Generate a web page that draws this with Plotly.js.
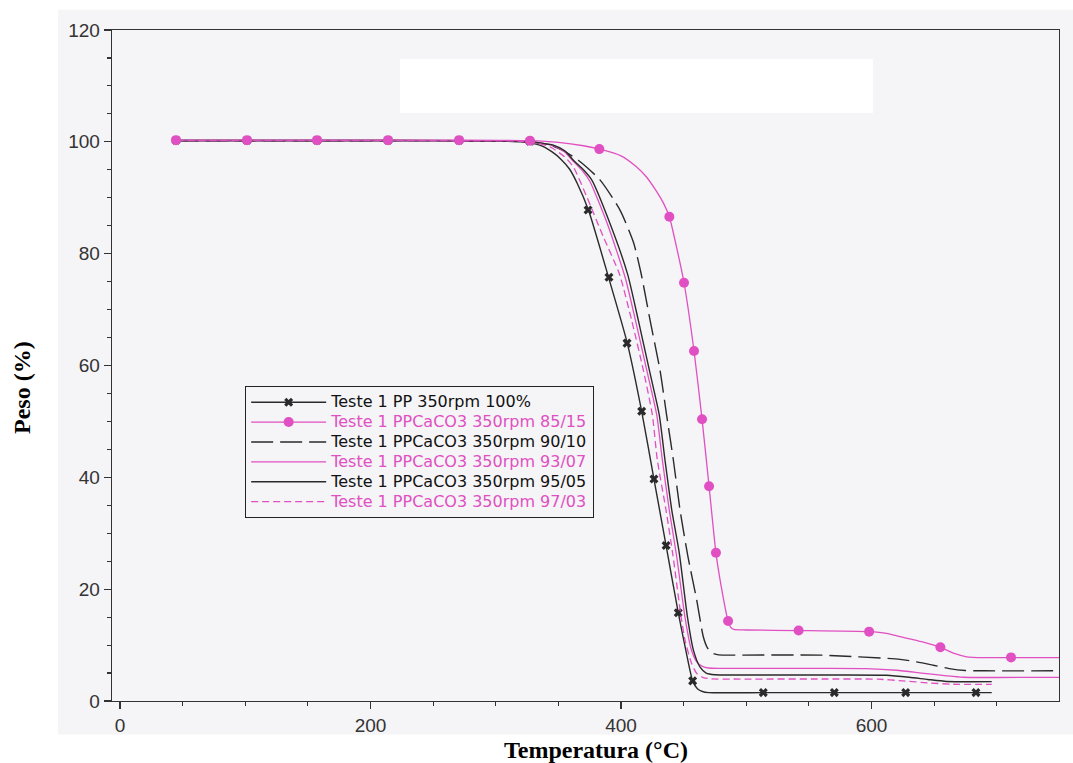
<!DOCTYPE html>
<html>
<head>
<meta charset="utf-8">
<script src="https://cdn.plot.ly/plotly-3.0.1.min.js"></script>
<style>html,body{margin:0;padding:0;background:#fff;}#chart{width:1073px;height:763px;}</style>
</head>
<body>
<div id="chart"></div>
<script>
// ---- Data (Temperatura °C, Peso %) ----
const seriesNames = [
  'Teste 1 PP 350rpm 100%',
  'Teste 1 PPCaCO3 350rpm 85/15',
  'Teste 1 PPCaCO3 350rpm 90/10',
  'Teste 1 PPCaCO3 350rpm 93/07',
  'Teste 1 PPCaCO3 350rpm 95/05',
  'Teste 1 PPCaCO3 350rpm 97/03'
];

// PP 100% (black solid, x markers)
const ppT = [45, 100, 160, 220, 280, 320, 335, 345, 352, 359, 365, 374, 390, 405, 416.5, 426.3, 436, 445.7, 452, 457.2, 461, 465, 470, 514, 571, 628, 696];
const ppW = [100.3, 100.3, 100.3, 100.3, 100.2, 100.0, 99.4, 98.2, 96.9, 95.1, 92.6, 87.8, 75.8, 64.0, 51.8, 39.7, 27.8, 15.8, 8.8, 3.6, 2.2, 1.7, 1.5, 1.5, 1.5, 1.5, 1.5];
const ppMarkT = [44.7, 101.4, 157.3, 214, 270.7, 327.3, 373.7, 390.4, 404.8, 416.5, 426.3, 436.0, 445.7, 457.2, 513.6, 570.3, 627.3, 683.4];
const ppMarkW = [100.3, 100.3, 100.3, 100.3, 100.3, 100.1, 87.8, 75.8, 64.0, 51.8, 39.7, 27.8, 15.8, 3.6, 1.5, 1.5, 1.5, 1.5];

// 85/15 (pink solid, dots)
const c85T = [45, 100, 160, 215, 270, 327, 350, 370, 383, 400, 412.5, 420, 428.5, 434, 438.6, 445, 450.3, 458.3, 464.7, 470.3, 475.8, 480, 485.5, 487.5, 490, 500, 541, 598, 612, 623, 640, 655, 666, 676, 690, 711, 750];
const c85W = [100.3, 100.3, 100.3, 100.3, 100.3, 100.2, 99.9, 99.3, 98.7, 97.5, 95.5, 93.8, 91.1, 89.0, 86.6, 80.5, 74.8, 62.6, 50.4, 38.4, 26.5, 20.5, 14.3, 13.2, 12.8, 12.7, 12.6, 12.4, 12.1, 11.5, 10.6, 9.6, 8.5, 7.9, 7.75, 7.75, 7.75];
const c85MarkT = [44.7, 101.4, 157.3, 214, 270.7, 327.3, 382.7, 438.6, 450.3, 458.3, 464.7, 470.3, 475.8, 485.5, 541.8, 598.1, 655, 711.4];
const c85MarkW = [100.3, 100.3, 100.3, 100.3, 100.3, 100.2, 98.7, 86.6, 74.8, 62.6, 50.4, 38.4, 26.5, 14.3, 12.6, 12.4, 9.6, 7.8];

// 90/10 (black long dash)
const c90T = [45, 120, 200, 280, 330, 345, 355, 365.9, 383.2, 399.2, 410, 416, 423.2, 431.1, 436.5, 441.8, 447.1, 453.3, 460.4, 465.7, 469, 472.4, 478, 490, 560, 622.8, 636, 649.3, 662, 674.7, 690, 750];
const c90W = [100.2, 100.2, 100.2, 100.2, 100.0, 99.3, 98.3, 96.7, 93.2, 87.8, 82.0, 76.5, 68.1, 59.2, 51.0, 43.1, 34.2, 26.0, 18.1, 11.5, 9.5, 8.6, 8.25, 8.2, 8.2, 7.45, 7.0, 6.4, 5.8, 5.45, 5.4, 5.4];

// 93/07 (pink solid)
const c93T = [45, 150, 250, 320, 335, 346, 355, 362, 370, 375, 389, 403.5, 411.5, 420.5, 428.5, 433, 438.5, 444.5, 451, 456, 460.5, 465, 470, 480, 560, 596, 620, 640, 660, 673, 750];
const c93W = [100.2, 100.2, 100.2, 100.1, 99.8, 99.3, 98.2, 96.5, 94.6, 93.0, 85.4, 75.6, 68.1, 59.2, 51.2, 43.1, 34.2, 25.8, 15.1, 9.3, 7.0, 6.2, 5.9, 5.84, 5.84, 5.8, 5.5, 5.0, 4.5, 4.25, 4.24];

// 95/05 (black solid)
const c95T = [45, 150, 250, 320, 335, 346, 355, 362, 370, 376.6, 391.2, 405.3, 413.8, 422.6, 430.5, 435.1, 440.5, 446.5, 453, 457.8, 463, 468, 475, 490, 560, 612, 630, 645, 660, 696];
const c95W = [100.2, 100.2, 100.2, 100.1, 99.8, 99.4, 98.4, 96.7, 95.0, 93.2, 85.4, 76.3, 68.1, 59.2, 51.2, 43.1, 34.2, 26.5, 15.1, 9.1, 6.1, 5.0, 4.7, 4.65, 4.65, 4.6, 4.25, 3.85, 3.5, 3.46];

// 97/03 (pink dashed)
const c97T = [45, 150, 250, 320, 335, 345, 355, 362, 372.6, 385.9, 398.7, 408.5, 417.8, 425, 429, 435.9, 441.5, 448, 451.5, 456.4, 460.4, 465.7, 472, 490, 560, 605, 625, 645, 665, 696];
const c97W = [100.2, 100.2, 100.2, 100.1, 99.7, 98.9, 97.3, 95.5, 90.2, 83.0, 76.4, 68.1, 59.2, 51.2, 43.1, 34.2, 26.0, 15.0, 10.5, 6.7, 4.95, 4.2, 3.95, 3.93, 3.93, 3.9, 3.6, 3.25, 3.0, 2.98];

const xTickVals = [0, 200, 400, 600];
const yTickVals = [0, 20, 40, 60, 80, 100, 120];
const xTitle = 'Temperatura (°C)';
const yTitle = 'Peso (%)';

// ---- styles ----
const BLACK = '#2a2a2a';
const PINK = '#e050c2';
const FONT = 'Liberation Sans, Arial, sans-serif';
const LEGFONT = 'DejaVu Sans, Liberation Sans, sans-serif';
const SERIF = 'Liberation Serif, Times New Roman, serif';
const SM = 0.6;

function legName(s, pink) {
  return '<span style="font-size:16px;' + (pink ? 'fill:' + PINK + ';color:' + PINK : '') + '">' + s + '</span>';
}
function isolate(a) { const out = []; a.forEach((v, i) => { if (i) out.push(null); out.push(v); }); return out; }

const traces = [
  { x: ppT, y: ppW, mode: 'lines', line: { color: BLACK, width: 1.4, shape: 'spline', smoothing: SM }, showlegend: false, hoverinfo: 'skip' },
  { x: isolate(ppMarkT), y: isolate(ppMarkW), mode: 'lines+markers', connectgaps: false, name: legName(seriesNames[0], false), legendrank: 1,
    line: { color: BLACK, width: 1.4 }, marker: { symbol: 'x', size: 8, color: BLACK, line: { width: 0 } } },
  { x: c90T, y: c90W, mode: 'lines', name: legName(seriesNames[2], false), legendrank: 3, line: { color: BLACK, width: 1.4, dash: '22px,7px', shape: 'spline', smoothing: SM } },
  { x: c93T, y: c93W, mode: 'lines', name: legName(seriesNames[3], true), legendrank: 4, line: { color: PINK, width: 1.3, shape: 'spline', smoothing: SM } },
  { x: c95T, y: c95W, mode: 'lines', name: legName(seriesNames[4], false), legendrank: 5, line: { color: BLACK, width: 1.4, shape: 'spline', smoothing: SM } },
  { x: c97T, y: c97W, mode: 'lines', name: legName(seriesNames[5], true), legendrank: 6, line: { color: PINK, width: 1.3, dash: '7px,4px', shape: 'spline', smoothing: SM } },
  { x: c85T, y: c85W, mode: 'lines', line: { color: PINK, width: 1.3, shape: 'spline', smoothing: SM }, showlegend: false, hoverinfo: 'skip' },
  { x: isolate(c85MarkT), y: isolate(c85MarkW), mode: 'lines+markers', connectgaps: false, name: legName(seriesNames[1], true), legendrank: 2,
    line: { color: PINK, width: 1.3 }, marker: { symbol: 'circle', size: 10, color: PINK, line: { width: 0 } } }
];

const axisCommon = {
  showgrid: false, zeroline: false, showline: true, mirror: true, linecolor: '#333', linewidth: 1.3,
  ticks: 'outside', ticklen: 7, tickwidth: 1.1, tickcolor: '#333',
  tickfont: { family: FONT, size: 19, color: '#333' }
};

const layout = {
  width: 1073, height: 763,
  margin: { l: 112, r: 14, t: 30, b: 62 },
  paper_bgcolor: '#ffffff',
  plot_bgcolor: 'rgba(0,0,0,0)',
  xaxis: Object.assign({}, axisCommon, {
    range: [-6.4, 749.7], tickvals: xTickVals, ticktext: xTickVals.map(String),
    minor: { dtick: 50, tick0: 0, ticks: 'outside', ticklen: 4, tickcolor: '#333' }
  }),
  yaxis: Object.assign({}, axisCommon, {
    range: [0, 120], tickvals: yTickVals, ticktext: yTickVals.map(String),
    minor: { dtick: 5, tick0: 0, ticks: 'outside', ticklen: 4, tickcolor: '#333' }
  }),
  legend: {
    x: 0.1404, y: 0.4694, xanchor: 'left', yanchor: 'top',
    bgcolor: 'rgba(0,0,0,0)', bordercolor: '#222', borderwidth: 1.2,
    font: { family: LEGFONT, size: 13, color: '#111' },
    itemwidth: 75, tracegroupgap: 0, traceorder: 'normal'
  },
  annotations: [
    { text: xTitle, xref: 'paper', yref: 'paper', x: 0.511, y: -0.073, xanchor: 'center', yanchor: 'middle', showarrow: false,
      font: { family: SERIF, size: 24, color: '#000', weight: 'bold' } },
    { text: yTitle, xref: 'paper', yref: 'paper', x: -0.095, y: 0.4665, xanchor: 'center', yanchor: 'middle', showarrow: false, textangle: -90,
      font: { family: SERIF, size: 24, color: '#000', weight: 'bold' } }
  ],
  shapes: [
    { type: 'rect', xref: 'paper', yref: 'paper', x0: -0.057, x1: 1.02, y0: -0.05, y1: 1.03,
      fillcolor: '#f5f4f6', line: { width: 0 }, layer: 'below' },
    { type: 'rect', xref: 'paper', yref: 'paper', x0: 0.3041, x1: 0.8036, y0: 0.8763, y1: 0.9568,
      fillcolor: '#ffffff', line: { width: 0 }, layer: 'below' }
  ],
  showlegend: true
};

Plotly.newPlot('chart', traces, layout, { displayModeBar: false, staticPlot: true });
</script>
</body>
</html>
